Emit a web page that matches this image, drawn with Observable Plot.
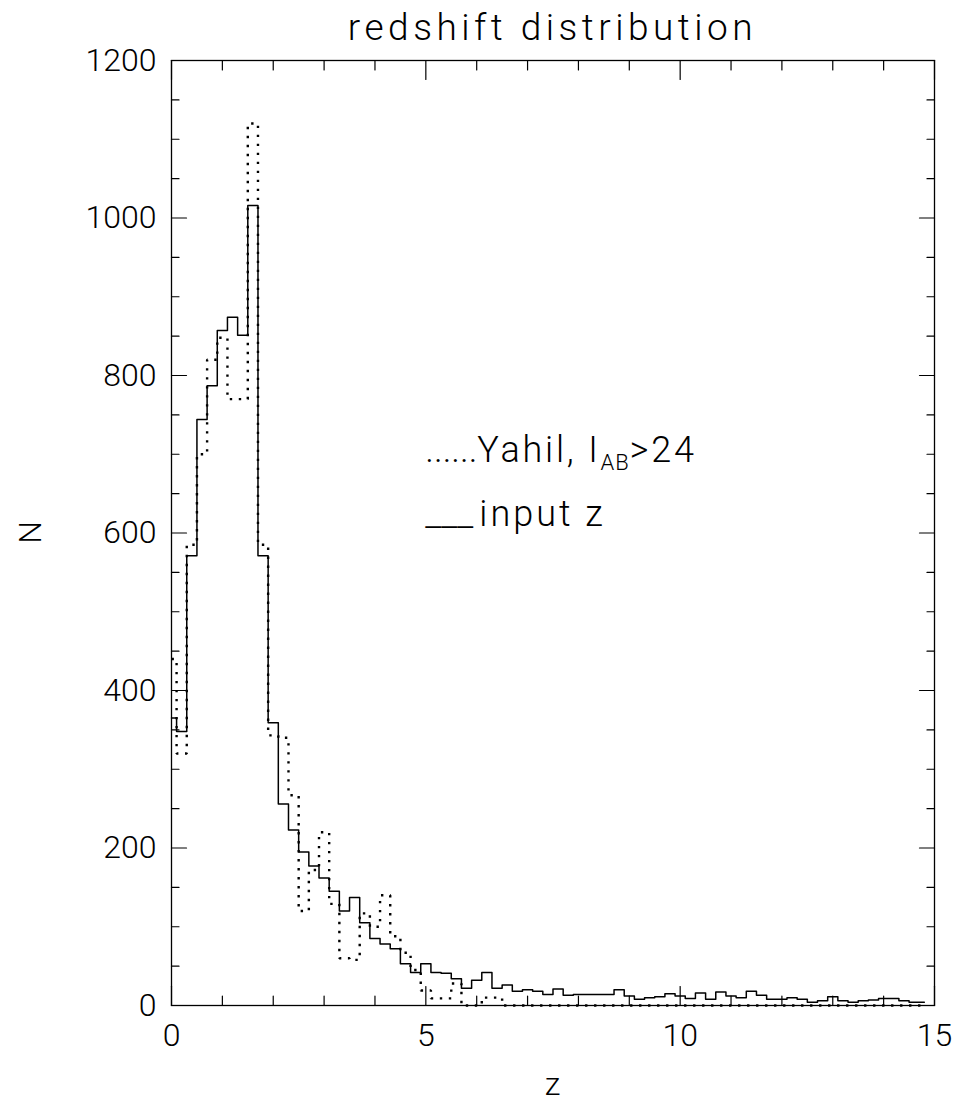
<!DOCTYPE html>
<html><head><meta charset="utf-8">
<script src="https://cdn.jsdelivr.net/npm/d3@7"></script>
<script src="https://cdn.jsdelivr.net/npm/@observablehq/plot@0.6"></script>
<style>body{margin:0;background:#fff;} svg{display:block;}</style>
</head><body><div id="chart"></div>
<script>
// bin centres (z), bin width 0.2
const zBins = [0,0.2,0.4,0.6,0.8,1.0,1.2,1.4,1.6,1.8,2.0,2.2,2.4,2.6,2.8,3.0,3.2,3.4,3.6,3.8,
  4.0,4.2,4.4,4.6,4.8,5.0,5.2,5.4,5.6,5.8,6.0,6.2,6.4,6.6,6.8,7.0,7.2,7.4,7.6,7.8,
  8.0,8.2,8.4,8.6,8.8,9.0,9.2,9.4,9.6,9.8,10.0,10.2,10.4,10.6,10.8,11.0,11.2,11.4,11.6,11.8,
  12.0,12.2,12.4,12.6,12.8,13.0,13.2,13.4,13.6,13.8,14.0,14.2,14.4,14.6,14.8];
// "input z" (solid)
const inputZ = [365,348,571,744,787,857,874,851,1016,571,359,256,223,195,177,162,145,120,137,105,
  85,78,72,53,42,53,42,41,34,22,32,42,22,26,18,20,18,14,21,13,
  14,14,14,14,20,12,8,10,11,15,12,9,16,8,17,12,10,18,13,8,
  8,10,8,4,6,11,6,4,6,7,9,9,6,4,4];
// "Yahil, I_AB>24" (dotted)
const yahil = [440,320,585,700,820,848,770,770,1120,585,343,340,267,120,172,220,129,60,58,117,
  100,140,88,67,45,19,9,9,28,0,0,10,10,0,0,0,0,0,0,0,
  0,0,0,0,0,0,0,0,0,0,0,0,0,0,0,0,0,0,0,0,
  0,0,0,0,0,0,0,0,0,0,0,0,0,0,0];

const xMajor = [0,5,10,15];
const xMinor = [1,2,3,4,6,7,8,9,11,12,13,14];
const yMajor = [0,200,400,600,800,1000,1200];
const yMinor = [50,100,150,250,300,350,450,500,550,650,700,750,850,900,950,1050,1100,1150];

const title = "redshift distribution";
const xLabel = "z";
const yLabel = "N";

const solidData = zBins.map((z,i)=>({z, n: inputZ[i]}));
const dotData = zBins.map((z,i)=>({z, n: yahil[i]}));

const font = "Roboto, 'DejaVu Sans', sans-serif";
const tickShape = {draw(ctx, l){ ctx.moveTo(0,0); ctx.lineTo(0,-l); }};
const tk = (data, opts) => Plot.vector(data, {anchor:"start", shape: tickShape, stroke:"black", strokeWidth:1.2, ...opts});

const plot = Plot.plot({
  width: 961, height: 1114,
  marginLeft: 171, marginRight: 27, marginTop: 60, marginBottom: 109,
  style: {fontFamily: font, fontSize: "32px", fontWeight: 300, background: "white", color: "black", overflow: "visible"},
  x: {domain: [0, 15]},
  y: {domain: [0, 1200]},
  marks: [
    Plot.axisX({ticks: xMajor, tickSize: 0, tickPadding: 18, label: null, tickFormat: d => String(d)}),
    Plot.axisY({ticks: yMajor, tickSize: 0, tickPadding: 15, label: null, tickFormat: d => String(d)}),
    tk(yMajor, {x: () => 0, y: d => d, length: 15, rotate: 90}),
    tk(yMinor, {x: () => 0, y: d => d, length: 7.5, rotate: 90}),
    tk(yMajor, {x: () => 15, y: d => d, length: 15, rotate: -90}),
    tk(yMinor, {x: () => 15, y: d => d, length: 7.5, rotate: -90}),
    tk(xMajor, {x: d => d, y: () => 0, length: 19, rotate: 0}),
    tk(xMinor, {x: d => d, y: () => 0, length: 9.5, rotate: 0}),
    tk(xMajor, {x: d => d, y: () => 1200, length: 19, rotate: 180}),
    tk(xMinor, {x: d => d, y: () => 1200, length: 9.5, rotate: 180}),
    Plot.line(solidData, {x: "z", y: "n", curve: "step", stroke: "black", strokeWidth: 1.5}),
    Plot.line(dotData, {x: "z", y: "n", curve: "step", stroke: "black", strokeWidth: 2.4, strokeLinecap: "butt", strokeLinejoin: "miter", strokeDasharray: "2.4 6.6"}),
    Plot.frame({stroke: "black", strokeWidth: 1.3})
  ]
});

const svg = d3.select(plot);
const xs = plot.scale("x"), ys = plot.scale("y");
const cx = (xs.apply(0) + xs.apply(15)) / 2;
const cy = (ys.apply(0) + ys.apply(1200)) / 2;

svg.append("text").attr("x", cx).attr("y", 40).attr("text-anchor", "middle")
  .attr("font-size", 37).attr("letter-spacing", 4.5).text(title);
svg.append("text").attr("x", cx).attr("y", 1095).attr("text-anchor", "middle")
  .attr("font-size", 32).text(xLabel);
svg.append("text").attr("transform", `translate(41,${cy}) rotate(-90)`).attr("text-anchor", "middle")
  .attr("font-size", 32).text(yLabel);

// legend
const lx = xs.apply(5);
const t1 = svg.append("text").attr("x", lx).attr("y", ys.apply(690)).attr("font-size", 36)
  .attr("text-anchor", "start");
t1.append("tspan").attr("textLength", 52).attr("lengthAdjust", "spacingAndGlyphs").text("......");
t1.append("tspan").attr("letter-spacing", 2.8).text("Yahil, I");
t1.append("tspan").attr("font-size", 22).attr("dy", 8).attr("letter-spacing", 1).text("AB");
t1.append("tspan").attr("dy", -8).attr("letter-spacing", 2.8).text(">24");
const y2 = ys.apply(608);
svg.append("text").attr("x", lx).attr("y", y2).attr("font-size", 36).attr("text-anchor", "start")
  .attr("textLength", 48).attr("lengthAdjust", "spacingAndGlyphs").text("___");
svg.append("text").attr("x", lx + 54).attr("y", y2).attr("font-size", 36).attr("text-anchor", "start")
  .attr("letter-spacing", 3).text("input z");

document.getElementById("chart").appendChild(plot);
</script>
</body></html>
